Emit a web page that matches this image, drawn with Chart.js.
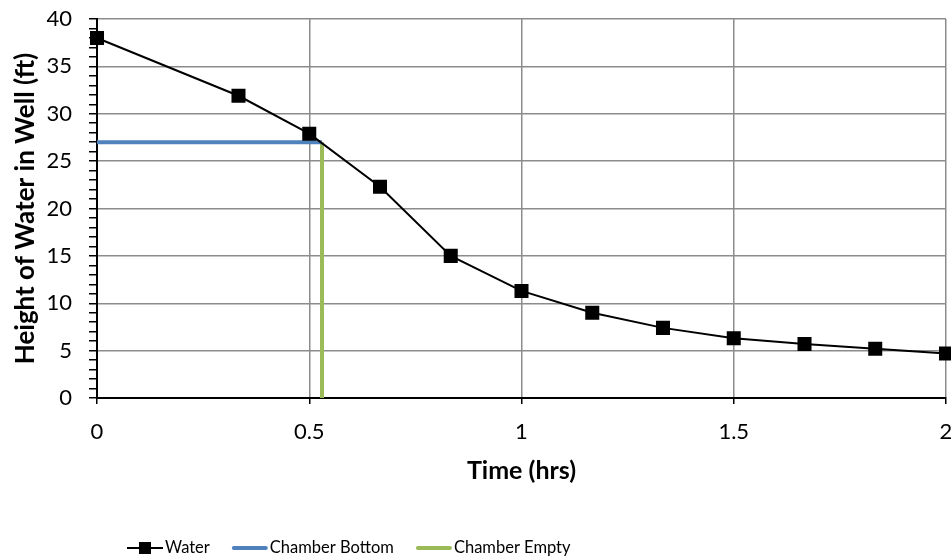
<!DOCTYPE html>
<html>
<head>
<meta charset="utf-8">
<script src="https://cdn.jsdelivr.net/npm/chart.js@4"></script>
<style>
  html, body { margin: 0; padding: 0; background: #fff; }
  #wrap { width: 951px; height: 559px; }
</style>
</head>
<body>
<div id="wrap"><canvas id="wellChart"></canvas></div>
<script>
// Data
const timeHrs = [0, 0.3333, 0.5, 0.6667, 0.8333, 1, 1.1667, 1.3333, 1.5, 1.6667, 1.8333, 2];
const waterHeight = [38.0, 31.9, 27.9, 22.3, 15.0, 11.3, 9.0, 7.4, 6.3, 5.7, 5.2, 4.7];
const bottomX = [0, 0.53];
const bottomY = [27, 27];
const emptyX = [0.53, 0.53];
const emptyY = [27, 0];
const xTicks = [0, 0.5, 1, 1.5, 2];
const yMajor = [0, 5, 10, 15, 20, 25, 30, 35, 40];

const colors = {
  water: "#000000",
  bottom: "#4f81bd",
  empty: "#9bbb59",
  grid: "#8c8c8c",
};

const FONT = "Lato, 'Open Sans', sans-serif";

function toPoints(xs, ys) {
  return xs.map((x, i) => ({ x: x, y: ys[i] }));
}

// Legend drawn by hand so it can sit left of centre like the original
const bottomLegend = {
  id: "bottomLegend",
  afterDraw(chart) {
    const g = chart.ctx;
    const y = 548;
    let x = 127;
    g.save();
    g.font = "16.5px " + FONT;
    g.textBaseline = "middle";
    chart.data.datasets.forEach((ds, i) => {
      g.strokeStyle = ds.borderColor;
      g.lineWidth = i === 0 ? 2 : 4;
      g.lineCap = i === 0 ? "butt" : "round";
      g.beginPath();
      g.moveTo(x + (i === 0 ? 0 : 2), y);
      g.lineTo(x + 36 - (i === 0 ? 0 : 2), y);
      g.stroke();
      if (i === 0) {
        g.fillStyle = ds.borderColor;
        g.fillRect(x + 12, y - 6, 12, 12);
      }
      g.fillStyle = "#000";
      g.fillText(ds.label, x + 38, y);
      x += 38 + g.measureText(ds.label).width + 22;
    });
    g.restore();
  },
};

const ctx = document.getElementById("wellChart").getContext("2d");
new Chart(ctx, {
  type: "scatter",
  data: {
    datasets: [
      {
        label: "Water",
        data: toPoints(timeHrs, waterHeight),
        showLine: true,
        borderColor: colors.water,
        backgroundColor: colors.water,
        borderWidth: 2,
        pointStyle: "rect",
        pointRadius: 8.5,
        pointHoverRadius: 8.5,
        clip: false,
        order: 0,
      },
      {
        label: "Chamber Bottom",
        data: toPoints(bottomX, bottomY),
        showLine: true,
        borderColor: colors.bottom,
        backgroundColor: colors.bottom,
        borderWidth: 4,
        pointRadius: 0,
        order: 1,
      },
      {
        label: "Chamber Empty",
        data: toPoints(emptyX, emptyY),
        showLine: true,
        borderColor: colors.empty,
        backgroundColor: colors.empty,
        borderWidth: 4,
        pointRadius: 0,
        order: 2,
      },
    ],
  },
  plugins: [bottomLegend],
  options: {
    responsive: true,
    maintainAspectRatio: false,
    animation: false,
    layout: { autoPadding: false, padding: { top: 19, right: 5, left: 0, bottom: 61 } },
    plugins: {
      tooltip: { enabled: false },
      legend: { display: false },
    },
    scales: {
      x: {
        type: "linear",
        min: 0,
        max: 2,
        afterBuildTicks: (s) => { s.ticks = xTicks.map((v) => ({ value: v })); },
        afterFit: (s) => {
          s.height = 100;
          s.paddingLeft = 0;
          s.paddingRight = 0;
        },
        border: { color: "#000", width: 2 },
        grid: {
          color: colors.grid,
          lineWidth: 1.5,
          tickColor: "#000",
          tickLength: 6,
        },
        ticks: {
          color: "#000",
          font: { family: FONT, size: 22 },
          padding: 15,
          maxRotation: 0,
          callback: (v) => String(v),
        },
        title: {
          display: true,
          text: "Time (hrs)",
          color: "#000",
          font: { family: FONT, size: 25, weight: "bold" },
          padding: { top: 12, bottom: 12 },
        },
      },
      y: {
        min: 0,
        max: 40,
        afterBuildTicks: (s) => {
          const t = [];
          for (let v = 0; v <= 40; v++) t.push({ value: v });
          s.ticks = t;
        },
        afterFit: (s) => {
          s.width = 97;
          s.paddingTop = 0;
          s.paddingBottom = 0;
        },
        border: { color: "#000", width: 2 },
        grid: {
          color: (c) => (yMajor.includes(c.tick.value) ? colors.grid : "rgba(0,0,0,0)"),
          lineWidth: 1.5,
          tickColor: "#000",
          tickLength: 8,
        },
        ticks: {
          color: "#000",
          font: { family: FONT, size: 22 },
          padding: 17,
          autoSkip: false,
          callback: (v) => (yMajor.includes(v) ? String(v) : ""),
        },
        title: {
          display: true,
          text: "Height of Water in Well (ft)",
          color: "#000",
          font: { family: FONT, size: 26, weight: "bold" },
          padding: { top: 10, bottom: 10 },
        },
      },
    },
  },
});
</script>
</body>
</html>
